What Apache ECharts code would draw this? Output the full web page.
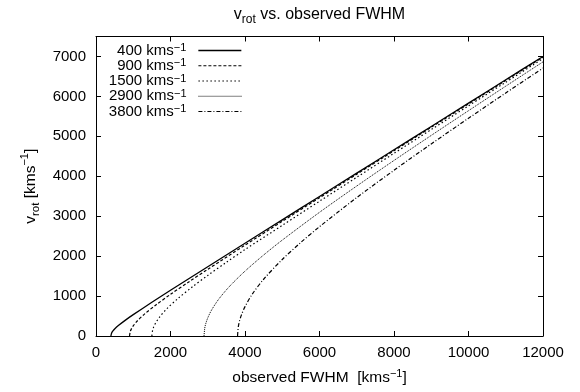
<!DOCTYPE html>
<html>
<head>
<meta charset="utf-8">
<script src="https://cdn.jsdelivr.net/npm/echarts@6/dist/echarts.min.js"></script>
<style>
html,body{margin:0;padding:0;background:#fff;}
#chart{width:580px;height:392px;}
</style>
</head>
<body>
<div id="chart"></div>
<script>
// Data
const seriesNames = ['400', '900', '1500', '2900', '3800'];

const fwhm400 = [400, 420, 450, 500, 600, 800, 1000, 1500, 2000, 3000, 4000, 5000, 6000, 7000, 8000, 9000, 10000, 11000, 12000];
const vrot400 = [0, 75, 120, 175, 261, 404, 535, 844, 1144, 1736, 2323, 2909, 3494, 4079, 4664, 5248, 5832, 6417, 7000];

const fwhm900 = [900, 920, 950, 1000, 1100, 1300, 1600, 2000, 2500, 3000, 4000, 5000, 6000, 7000, 8000, 9000, 10000, 11000, 12000];
const vrot900 = [0, 111, 178, 254, 369, 548, 772, 1043, 1361, 1670, 2275, 2871, 3463, 4052, 4640, 5227, 5813, 6399, 6985];

const fwhm1500 = [1500, 1520, 1550, 1600, 1700, 1900, 2200, 2600, 3000, 3500, 4000, 5000, 6000, 7000, 8000, 9000, 10000, 11000, 12000];
const vrot1500 = [0, 143, 228, 325, 467, 681, 939, 1240, 1517, 1846, 2164, 2770, 3375, 3975, 4575, 5170, 5765, 6355, 6950];

const fwhm2900 = [2900, 2920, 2950, 3000, 3100, 3300, 3600, 4000, 4500, 5000, 6000, 7000, 8000, 9000, 10000, 11000, 12000];
const vrot2900 = [0, 201, 319, 453, 646, 929, 1258, 1624, 2028, 2401, 3097, 3756, 4396, 5023, 5642, 6256, 6865];

const fwhm3800 = [3800, 3820, 3850, 3900, 4000, 4200, 4500, 5000, 5500, 6000, 7000, 8000, 9000, 10000, 11000, 12000];
const vrot3800 = [0, 230, 365, 517, 736, 1055, 1421, 1916, 2344, 2737, 3466, 4150, 4810, 5453, 6086, 6710];

const xs = [fwhm400, fwhm900, fwhm1500, fwhm2900, fwhm3800];
const ys = [vrot400, vrot900, vrot1500, vrot2900, vrot3800];
const dashes = ['solid', [3, 2], [1.5, 2.5], [1, 1], [4, 2, 1, 2]];
const widths = [1.3, 1.2, 1.2, 1, 1.2];

const FONT = 'Liberation Sans';
const chart = echarts.init(document.getElementById('chart'), null, {renderer: 'canvas'});

const series = seriesNames.map((n, i) => ({
  name: n,
  type: 'line',
  xAxisIndex: 0,
  yAxisIndex: 0,
  data: xs[i].map((x, j) => [x, ys[i][j]]),
  showSymbol: false,
  symbol: 'none',
  smooth: 0.3,
  animation: false,
  lineStyle: {color: '#000', width: widths[i], type: dashes[i]},
  itemStyle: {color: '#000'}
}));

const rowCenters = [50.5, 65.75, 81, 96.25, 111.5];
const legends = seriesNames.map((n, i) => ({
  data: [n],
  orient: 'vertical',
  align: 'right',
  right: 580 - 242,
  top: rowCenters[i] - 8,
  padding: 0,
  itemWidth: 43,
  itemHeight: 16,
  selectedMode: false,
  itemStyle: {opacity: 0, borderWidth: 0},
  lineStyle: {color: '#000', width: widths[i], type: dashes[i]},
  formatter: name => `{t|${name} kms}{u|−1}`,
  textStyle: {
    color: '#000',
    fontFamily: FONT,
    padding: [0, 7, 0, 0],
    rich: {
      t: {fontSize: 15, fontFamily: FONT, color: '#000', lineHeight: 16},
      u: {fontSize: 11, fontFamily: FONT, color: '#000', lineHeight: 8, verticalAlign: 'top'}
    }
  }
}));

const axisCommon = {
  type: 'value',
  axisLine: {show: true, onZero: false, lineStyle: {color: '#000', width: 1}},
  axisTick: {show: true, inside: true, length: 5, lineStyle: {color: '#000', width: 1}},
  splitLine: {show: false}
};
const plain = v => String(v);

chart.setOption({
  backgroundColor: '#fff',
  animation: false,
  title: {
    text: '{a|v}{s|rot}{a| vs. observed FWHM}',
    left: 319.5,
    textAlign: 'center',
    top: 3.6,
    padding: 0,
    textStyle: {
      fontWeight: 'normal',
      rich: {
        a: {fontSize: 16, fontFamily: FONT, color: '#000', lineHeight: 22, fontWeight: 'normal'},
        s: {fontSize: 12, fontFamily: FONT, color: '#000', lineHeight: 12, verticalAlign: 'bottom', fontWeight: 'normal'}
      }
    }
  },
  legend: legends,
  grid: {left: 96, right: 37, top: 36.5, bottom: 56, containLabel: false},
  xAxis: [
    Object.assign({}, axisCommon, {
      position: 'bottom',
      min: 0, max: 12000, interval: 2000,
      axisLabel: {color: '#000', fontFamily: FONT, fontSize: 15, margin: 9, formatter: plain},
      name: '{a|observed FWHM  [kms}{u|−1}{a|]}',
      nameLocation: 'middle',
      nameGap: 32,
      nameTextStyle: {
        rich: {
          a: {fontSize: 15.5, fontFamily: FONT, color: '#000', lineHeight: 20},
          u: {fontSize: 11, fontFamily: FONT, color: '#000', lineHeight: 10, verticalAlign: 'top'}
        }
      }
    }),
    Object.assign({}, axisCommon, {
      position: 'top',
      min: 0, max: 12000, interval: 2000,
      axisLabel: {show: false}
    })
  ],
  yAxis: [
    Object.assign({}, axisCommon, {
      position: 'left',
      min: 0, max: 7500, interval: 1000,
      axisLabel: {color: '#000', fontFamily: FONT, fontSize: 15, margin: 10, showMaxLabel: false, formatter: plain},
      name: '{a|v}{s|rot}{a| [kms}{u|−1}{a|]}',
      nameLocation: 'middle',
      nameRotate: 90,
      nameGap: 53,
      nameTextStyle: {
        rich: {
          a: {fontSize: 15.5, fontFamily: FONT, color: '#000', lineHeight: 22},
          s: {fontSize: 11.5, fontFamily: FONT, color: '#000', lineHeight: 12, verticalAlign: 'bottom'},
          u: {fontSize: 11, fontFamily: FONT, color: '#000', lineHeight: 12, verticalAlign: 'top'}
        }
      }
    }),
    Object.assign({}, axisCommon, {
      position: 'right',
      min: 0, max: 7500, interval: 1000,
      axisLabel: {show: false}
    })
  ],
  series: series
});
</script>
</body>
</html>
